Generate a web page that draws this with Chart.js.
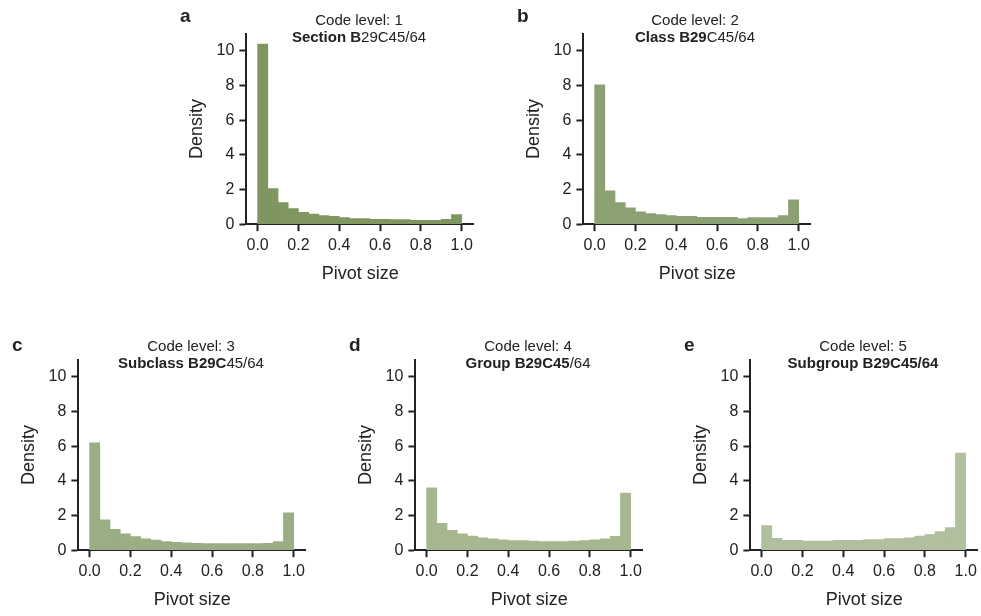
<!DOCTYPE html>
<html><head><meta charset="utf-8">
<script src="https://cdn.jsdelivr.net/npm/chart.js@4/dist/chart.umd.min.js"></script>
<style>
body{margin:0;background:#fff;font-family:"Liberation Sans",Arial,sans-serif;color:#222;}
.panel{position:absolute;}
.ttl{position:absolute;text-align:center;font-size:15px;line-height:17px;width:260px;}
.lt{position:absolute;font-weight:bold;font-size:19px;}
</style></head><body>
<script>
const binCenters = [0.025,0.075,0.125,0.175,0.225,0.275,0.325,0.375,0.425,0.475,0.525,0.575,0.625,0.675,0.725,0.775,0.825,0.875,0.925,0.975];
const level1 = [10.4,2.05,1.25,0.9,0.68,0.58,0.5,0.45,0.38,0.33,0.32,0.28,0.28,0.27,0.27,0.22,0.22,0.22,0.28,0.55];
const level2 = [8.05,1.92,1.25,0.95,0.72,0.62,0.55,0.5,0.45,0.45,0.4,0.4,0.4,0.4,0.33,0.38,0.38,0.38,0.5,1.4];
const level3 = [6.2,1.75,1.2,0.95,0.78,0.65,0.58,0.5,0.45,0.42,0.4,0.38,0.38,0.38,0.38,0.38,0.38,0.4,0.5,2.15];
const level4 = [3.6,1.55,1.15,0.95,0.82,0.72,0.66,0.6,0.56,0.55,0.52,0.5,0.5,0.5,0.52,0.55,0.6,0.65,0.8,3.3];
const level5 = [1.42,0.68,0.57,0.57,0.52,0.52,0.52,0.57,0.57,0.57,0.62,0.62,0.67,0.67,0.72,0.82,0.9,1.07,1.3,5.6];
const colors = ['#7f9660','#8ca173','#9bad83','#a6b790','#b1bf9f'];
const letters = ['a','b','c','d','e'];
const titleTop = ['Code level: 1','Code level: 2','Code level: 3','Code level: 4','Code level: 5'];
const titleBottom = ['<b>Section B</b>29C45/64','<b>Class B29</b>C45/64','<b>Subclass B29C</b>45/64','<b>Group B29C45</b>/64','<b>Subgroup B29C45/64</b>'];
const series = [level1,level2,level3,level4,level5];
// left, top of each canvas
const pos = [[182,19],[519,19],[14,345],[351,345],[686,345]];
const titleCenter = [[359,11],[695,11],[191,337],[528,337],[863,337]];
const letterPos = [[180,5],[517,5],[12,334],[349,334],[684,334]];

function panel(i){
  const [l,t] = pos[i];
  const div = document.createElement('div');
  div.className='panel';
  div.style.cssText=`left:${l}px;top:${t}px;`;
  const cv = document.createElement('canvas');
  cv.width=296; cv.height=270;
  div.appendChild(cv);
  document.body.appendChild(div);
  const tt = document.createElement('div');
  tt.className='ttl';
  tt.style.left=(titleCenter[i][0]-130)+'px'; tt.style.top=titleCenter[i][1]+'px';
  tt.innerHTML=titleTop[i]+'<br>'+titleBottom[i];
  document.body.appendChild(tt);
  const lt = document.createElement('div');
  lt.className='lt'; lt.textContent=letters[i];
  lt.style.left=letterPos[i][0]+'px'; lt.style.top=letterPos[i][1]+'px';
  document.body.appendChild(lt);
  const tickFont={family:'"Liberation Sans", Arial',size:16};
  const titleFont={family:'"Liberation Sans", Arial',size:18};
  new Chart(cv,{
    type:'bar',
    data:{datasets:[{data:binCenters.map((x,k)=>({x,y:series[i][k]})),backgroundColor:colors[i],
      barPercentage:1,categoryPercentage:1,borderWidth:0}]},
    options:{responsive:false,animation:false,devicePixelRatio:1,
      plugins:{legend:{display:false},tooltip:{enabled:false}},
      layout:{padding:{top:8,right:4}},
      scales:{
        x:{type:'linear',offset:false,min:-0.055,max:1.06,afterBuildTicks:s=>{s.ticks=[0,0.2,0.4,0.6,0.8,1].map(v=>({value:v}));},
          ticks:{color:'#222',font:tickFont,callback:v=>v.toFixed(1),maxRotation:0,padding:5},
          grid:{offset:false,drawOnChartArea:false,tickLength:7,tickWidth:2,tickColor:'#222'},
          border:{color:'#222',width:2},
          title:{display:true,text:'Pivot size',color:'#222',font:titleFont,padding:{top:3}}},
        y:{min:0,max:11,afterBuildTicks:s=>{s.ticks=[0,2,4,6,8,10].map(v=>({value:v}));},
          ticks:{color:'#222',font:tickFont,padding:5},
          grid:{drawOnChartArea:false,tickLength:7,tickWidth:2,tickColor:'#222'},
          border:{color:'#222',width:2},
          title:{display:true,text:'Density',color:'#222',font:titleFont,padding:{bottom:4}}}
      }}
  });
}
for(let i=0;i<5;i++) panel(i);
</script>
</body></html>
